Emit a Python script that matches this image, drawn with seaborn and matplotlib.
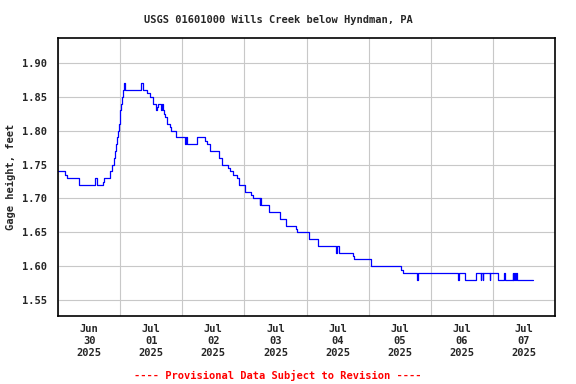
import matplotlib
matplotlib.use("Agg")
import matplotlib.pyplot as plt
import matplotlib.dates as mdates
import pandas as pd
import seaborn as sns

# gage height readings (hours after 2025-06-30 00:00, feet), step changes
hours = [0, 2.8, 3.3, 8.0, 14.4, 15.2, 17.2, 17.7, 20.2, 21.0, 21.6, 22.0,
         22.4, 22.8, 23.1, 23.5, 23.8, 24.0, 24.4, 24.7, 25.1, 25.4, 26.0,
         32.2, 32.9, 34.5, 35.6, 36.8, 37.9, 38.3, 38.8, 39.6, 40.1, 40.4,
         40.9, 41.4, 42.2, 43.2, 43.7, 45.5, 49.0, 49.6, 50.0, 53.7, 56.8,
         57.6, 58.9, 62.2, 63.5, 65.7, 66.3, 67.6, 69.1, 69.9, 72.4, 74.7,
         75.3, 77.9, 78.1, 78.4, 81.7, 85.6, 88.2, 92.0, 92.4, 97.1, 100.6,
         107.4, 107.9, 108.7, 113.9, 114.5, 120.8, 132.7, 133.2, 138.5,
         139.0, 154.5, 154.9, 157.2, 161.5, 163.3, 163.6, 164.0, 164.3,
         166.7, 167.0, 170.1, 172.2, 172.7, 175.6, 175.9, 176.3, 176.7,
         177.0, 177.4, 183.5]
gage = [1.74, 1.735, 1.73, 1.72, 1.73, 1.72, 1.725, 1.73, 1.74, 1.75, 1.76,
        1.77, 1.78, 1.79, 1.80, 1.81, 1.82, 1.83, 1.84, 1.85, 1.86, 1.87,
        1.86, 1.87, 1.86, 1.855, 1.85, 1.84, 1.83, 1.835, 1.84, 1.83, 1.84,
        1.83, 1.825, 1.82, 1.81, 1.805, 1.80, 1.79, 1.78, 1.79, 1.78, 1.79,
        1.785, 1.78, 1.77, 1.76, 1.75, 1.745, 1.74, 1.735, 1.73, 1.72, 1.71,
        1.705, 1.70, 1.69, 1.70, 1.69, 1.68, 1.67, 1.66, 1.655, 1.65, 1.64,
        1.63, 1.62, 1.63, 1.62, 1.615, 1.61, 1.60, 1.595, 1.59, 1.58, 1.59,
        1.58, 1.59, 1.58, 1.59, 1.58, 1.59, 1.58, 1.59, 1.58, 1.59, 1.58,
        1.59, 1.58, 1.59, 1.58, 1.59, 1.58, 1.59, 1.58, 1.58]
yticks = [1.55, 1.60, 1.65, 1.70, 1.75, 1.80, 1.85, 1.90]

start = pd.Timestamp("2025-06-30")
df = pd.DataFrame({"time": start + pd.to_timedelta(hours, unit="h"),
                   "gage": gage})

sns.set_style("white")
plt.rcParams["font.family"] = ["DejaVu Sans Mono"]
plt.rcParams["font.weight"] = "bold"

fig = plt.figure(figsize=(5.76, 3.84), dpi=100)
ax = fig.add_axes([58 / 576, 1 - 316 / 384, 497 / 576, 278 / 384])

sns.lineplot(data=df, x="time", y="gage", ax=ax, color="#0000ff",
             linewidth=0.9, drawstyle="steps-post", estimator=None)

ax.set_xlim(start, start + pd.Timedelta(days=8))
ax.set_ylim(1.5264, 1.9369)
ax.set_yticks(yticks)
ax.set_yticklabels(["%.2f" % v for v in yticks], fontsize=7.5, fontweight="bold")

ax.xaxis.set_major_locator(mdates.DayLocator())
ax.xaxis.set_major_formatter(plt.NullFormatter())
ax.xaxis.set_minor_locator(mdates.HourLocator(byhour=12))
ax.xaxis.set_minor_formatter(mdates.DateFormatter("%b\n%d\n%Y"))
ax.tick_params(axis="x", which="both", length=0, pad=6, labelsize=7.5)
for lab in ax.get_xticklabels(minor=True):
    lab.set_fontweight("bold")
ax.tick_params(axis="y", length=6, color="#c8c8c8", width=0.8, pad=2)

ax.grid(True, which="major", color="#c8c8c8", linewidth=0.8)
for s in ax.spines.values():
    s.set_color("black")
    s.set_linewidth(1.2)

ax.set_xlabel("")
ax.set_ylabel("Gage height, feet", fontsize=7.5, fontweight="bold", labelpad=4)

fig.text(278 / 576, 1 - 20 / 384, "USGS 01601000 Wills Creek below Hyndman, PA",
         ha="center", va="center", fontsize=7.5, fontweight="bold")
fig.text(278 / 576, 1 - 375 / 384, "---- Provisional Data Subject to Revision ----",
         ha="center", va="center", fontsize=7.5, fontweight="bold", color="#ff0000")

fig.savefig("out.png", dpi=100)
